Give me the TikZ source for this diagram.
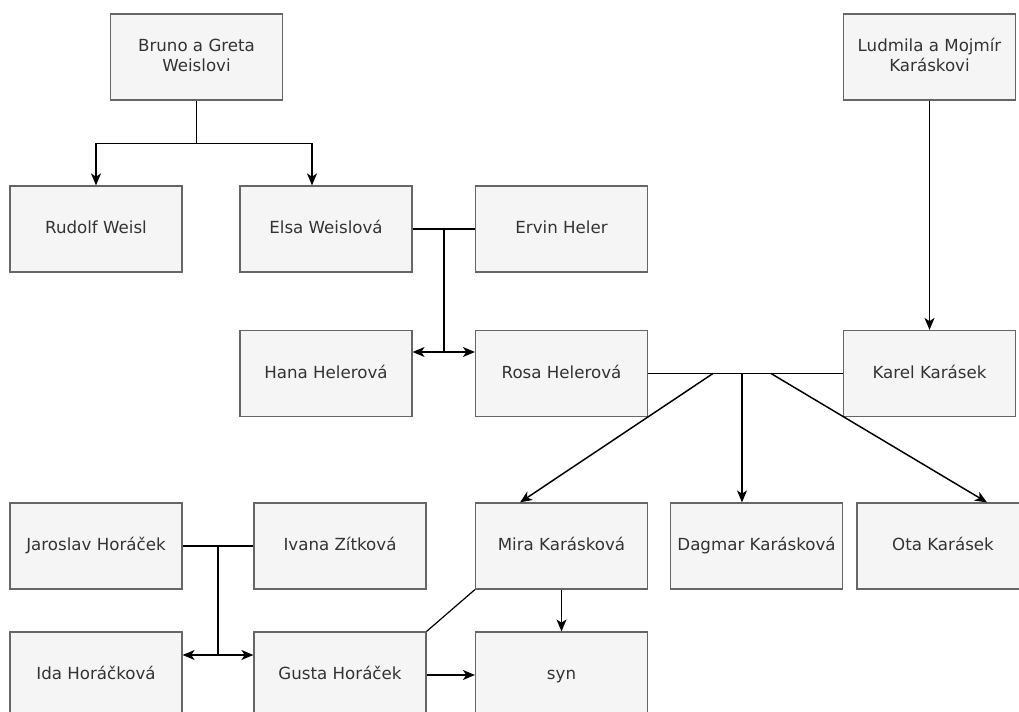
\documentclass[tikz,border=0pt]{standalone}
\usepackage{fontspec}
\setmainfont{DejaVu Sans}
\usetikzlibrary{arrows.meta,calc}
\definecolor{boxfill}{HTML}{F5F5F5}
\definecolor{boxline}{HTML}{666666}
\definecolor{boxtext}{HTML}{333333}
\newcommand\mystrut{\rule[-3pt]{0pt}{12pt}}
\begin{document}
\begin{tikzpicture}[x=0.75pt,y=-0.75pt,
  person/.style={draw=boxline,fill=boxfill,line width=0.9pt,minimum width=129pt,minimum height=64.5pt,
    inner sep=2pt,align=center,text=boxtext,font=\fontsize{12.5pt}{15pt}\selectfont,
    execute at begin node=\mystrut,execute at end node=\mystrut},
  conn/.style={draw=black,line width=1.1pt},
  arr/.style={conn,-{Stealth[length=9pt,width=7.5pt,inset=2.5pt]}}]
\useasboundingbox (0,0) rectangle (1019,712);
\clip (0,0) rectangle (1019,712);
\fill[white] (0,0) rectangle (1019,712);
% nodes
\node[person] (bruno) at (196.5,57) {Bruno a Greta\\Weislovi};
\node[person] (ludmila) at (929.5,57) {Ludmila a Mojmír\\Karáskovi};
\node[person] (rudolf) at (96,229) {Rudolf Weisl};
\node[person] (elsa) at (326,229) {Elsa Weislová};
\node[person] (ervin) at (561.5,229) {Ervin Heler};
\node[person] (hana) at (326,373.5) {Hana Helerová};
\node[person] (rosa) at (561.5,373.5) {Rosa Helerová};
\node[person] (karel) at (929.5,373.5) {Karel Karásek};
\node[person] (jaroslav) at (96,546) {Jaroslav Horáček};
\node[person] (ivana) at (340,546) {Ivana Zítková};
\node[person] (mira) at (561.5,546) {Mira Karásková};
\node[person] (dagmar) at (756.5,546) {Dagmar Karásková};
\node[person] (ota) at (943,546) {Ota Karásek};
\node[person] (ida) at (96,675) {Ida Horáčková};
\node[person] (gusta) at (340,675) {Gusta Horáček};
\node[person] (syn) at (561.5,675) {syn};
% Bruno a Greta -> children
\coordinate (bj) at ($(bruno.south)+(0,43)$);
\coordinate (ea) at ($(elsa.north)+(-14,0)$);
\draw[conn] (bruno.south) -- (bj);
\draw[arr] (bj) -| (rudolf.north);
\draw[arr] (bj) -| (ea);
% Ludmila -> Karel
\draw[arr] (ludmila.south) -- (karel.north);
% Elsa + Ervin
\draw[conn] (elsa.east) -- (ervin.west);
\coordinate (ej) at (444,229);
\coordinate (ek) at (444,352);
\draw[conn] (ej) -- (ek);
\draw[arr] (ek) -- (ek -| hana.east);
\draw[arr] (ek) -- (ek -| rosa.west);
% Rosa + Karel
\draw[conn] (rosa.east) -- (karel.west);
\coordinate (r1) at (713,373.5);
\coordinate (r2) at (742,373.5);
\coordinate (r3) at (771,373.5);
\coordinate (m1) at ($(mira.north)+(-41.5,0)$);
\coordinate (o1) at ($(ota.north)+(44,0)$);
\draw[arr] (r1) -- (m1);
\draw[arr] (r2) -- (r2 |- dagmar.north);
\draw[arr] (r3) -- (o1);
% Jaroslav + Ivana
\draw[conn] (jaroslav.east) -- (ivana.west);
\coordinate (jj) at (218,546);
\coordinate (jk) at (218,655);
\draw[conn] (jj) -- (jk);
\draw[arr] (jk) -- (jk -| ida.east);
\draw[arr] (jk) -- (jk -| gusta.west);
% Mira + Gusta -> syn
\draw[conn,line width=0.9pt] (mira.south west) -- (gusta.north east);
\draw[arr] (mira.south) -- (syn.north);
\draw[arr] (gusta.east) -- (syn.west);
\end{tikzpicture}
\end{document}
